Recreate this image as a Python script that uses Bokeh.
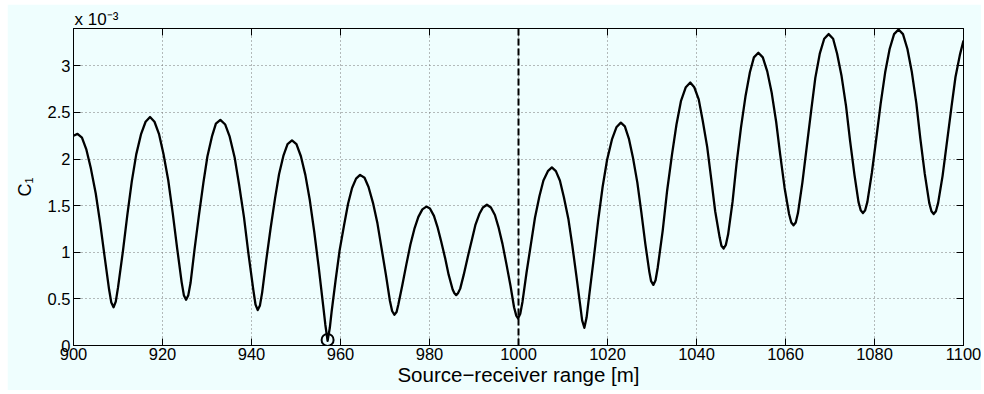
from bokeh.plotting import figure
from bokeh.models import FixedTicker, LinearAxis, Span, Range1d, Title
from bokeh.embed import file_html
from bokeh.resources import INLINE

# ---- data (C1 in units of 1e-3) ----
range_m = [
    900.0, 900.9,
    901.9, 902.9, 903.9, 905.0, 906.0, 907.0, 908.0, 908.5, 909.0,
    909.5, 910.0, 911.1, 912.1, 913.1, 914.1, 915.2, 916.2, 917.2,
    918.2, 919.2, 920.2, 921.3, 922.3, 923.3, 924.3, 924.8, 925.3,
    925.8, 926.3, 927.2, 928.2, 929.2, 930.1, 931.1, 932.0, 933.0,
    934.1, 935.1, 936.2, 937.2, 938.3, 939.3, 940.4, 940.9, 941.4,
    941.9, 942.4, 943.3, 944.3, 945.3, 946.2, 947.2, 948.1, 949.1,
    950.1, 951.1, 952.1, 953.1, 954.1, 955.1, 956.1, 956.6, 957.1,
    957.6, 958.0, 958.9, 959.8, 960.8, 961.7, 962.6, 963.5, 964.4,
    965.4, 966.3, 967.3, 968.3, 969.2, 970.2, 971.1, 971.6, 972.1,
    972.6, 973.0, 973.9, 974.8, 975.7, 976.6, 977.5, 978.4, 979.3,
    980.1, 981.0, 981.8, 982.6, 983.5, 984.3, 985.2, 985.6, 986.0,
    986.4, 986.9, 987.7, 988.6, 989.5, 990.3, 991.2, 992.0, 992.9,
    993.8, 994.7, 995.5, 996.4, 997.3, 998.2, 999.0, 999.5, 999.9,
    1000.4, 1000.9, 1001.8, 1002.8, 1003.7, 1004.7, 1005.6, 1006.6, 1007.5,
    1008.4, 1009.3, 1010.2, 1011.2, 1012.1, 1013.0, 1013.9, 1014.3, 1014.8,
    1015.3, 1015.8, 1016.9, 1017.9, 1018.9, 1019.9, 1021.0, 1022.0, 1023.0,
    1023.9, 1024.8, 1025.7, 1026.7, 1027.6, 1028.5, 1029.4, 1029.8, 1030.3,
    1030.8, 1031.3, 1032.4, 1033.4, 1034.5, 1035.5, 1036.5, 1037.6, 1038.6,
    1039.5, 1040.5, 1041.4, 1042.4, 1043.3, 1044.2, 1045.2, 1045.6, 1046.1,
    1046.6, 1047.1, 1048.1, 1049.0, 1050.0, 1051.0, 1052.0, 1052.9, 1053.9,
    1054.9, 1055.9, 1056.9, 1057.9, 1058.8, 1059.8, 1060.8, 1061.3, 1061.8,
    1062.3, 1062.8, 1063.8, 1064.8, 1065.8, 1066.7, 1067.7, 1068.7, 1069.7,
    1070.7, 1071.6, 1072.6, 1073.6, 1074.5, 1075.5, 1076.4, 1076.9, 1077.4,
    1077.9, 1078.4, 1079.4, 1080.4, 1081.4, 1082.4, 1083.4, 1084.4, 1085.4,
    1086.4, 1087.4, 1088.4, 1089.4, 1090.3, 1091.3, 1092.3, 1092.8, 1093.3,
    1093.8, 1094.3, 1095.3, 1096.3, 1097.3, 1098.2, 1099.2, 1100.0,
]
c1_milli = [
    2.25, 2.27,
    2.23, 2.10, 1.90, 1.63, 1.31, 0.95, 0.60, 0.46, 0.41,
    0.47, 0.62, 1.01, 1.40, 1.76, 2.05, 2.27, 2.40, 2.45,
    2.40, 2.27, 2.06, 1.77, 1.42, 1.04, 0.68, 0.54, 0.49,
    0.54, 0.67, 1.03, 1.40, 1.75, 2.03, 2.24, 2.38, 2.42,
    2.37, 2.24, 2.02, 1.73, 1.38, 0.99, 0.60, 0.44, 0.38,
    0.43, 0.57, 0.91, 1.26, 1.58, 1.84, 2.04, 2.16, 2.20,
    2.16, 2.03, 1.83, 1.56, 1.22, 0.84, 0.43, 0.22, 0.05,
    0.19, 0.36, 0.70, 1.02, 1.29, 1.52, 1.69, 1.79, 1.83,
    1.80, 1.70, 1.53, 1.31, 1.05, 0.76, 0.48, 0.37, 0.33,
    0.36, 0.44, 0.65, 0.87, 1.08, 1.25, 1.38, 1.46, 1.49,
    1.47, 1.39, 1.27, 1.12, 0.94, 0.76, 0.60, 0.56, 0.54,
    0.56, 0.61, 0.76, 0.95, 1.13, 1.29, 1.41, 1.48, 1.51,
    1.48, 1.40, 1.27, 1.09, 0.87, 0.64, 0.41, 0.32, 0.29,
    0.34, 0.47, 0.78, 1.09, 1.37, 1.60, 1.77, 1.87, 1.91,
    1.87, 1.77, 1.59, 1.36, 1.07, 0.75, 0.42, 0.27, 0.19,
    0.30, 0.50, 0.93, 1.34, 1.70, 1.99, 2.21, 2.34, 2.39,
    2.35, 2.22, 2.02, 1.75, 1.43, 1.09, 0.79, 0.69, 0.65,
    0.70, 0.84, 1.23, 1.66, 2.05, 2.37, 2.62, 2.77, 2.82,
    2.77, 2.64, 2.41, 2.13, 1.79, 1.44, 1.16, 1.07, 1.04,
    1.08, 1.19, 1.54, 1.95, 2.34, 2.67, 2.93, 3.09, 3.14,
    3.09, 2.94, 2.71, 2.40, 2.05, 1.69, 1.41, 1.32, 1.29,
    1.32, 1.42, 1.75, 2.14, 2.53, 2.87, 3.13, 3.29, 3.34,
    3.29, 3.13, 2.89, 2.57, 2.20, 1.83, 1.54, 1.45, 1.42,
    1.45, 1.54, 1.85, 2.22, 2.60, 2.93, 3.18, 3.34, 3.39,
    3.34, 3.18, 2.93, 2.60, 2.22, 1.84, 1.53, 1.44, 1.41,
    1.44, 1.53, 1.82, 2.19, 2.56, 2.88, 3.12, 3.27,
]
marker_range = [957.1]
marker_c1 = [0.06]
reference_range = 1000

x_ticks = [900, 920, 940, 960, 980, 1000, 1020, 1040, 1060, 1080, 1100]
y_ticks = [0, 0.5, 1, 1.5, 2, 2.5, 3]
y_tick_labels = ["0", "0.5", "1", "1.5", "2", "2.5", "3"]
x_title = "Source\u2212receiver range [m]"
y_title = "C\u2081"
scale_text = "x 10\u207b\u00b3"

BG = "#effefe"
FONT = "Liberation Sans"

p = figure(width=974, height=386,
           x_range=Range1d(900, 1100), y_range=Range1d(0, 3.4),
           output_backend="svg", toolbar_location=None,
           background_fill_color=BG, border_fill_color=BG,
           min_border_left=66, min_border_right=18,
           min_border_top=24, min_border_bottom=45)
p.margin = (4, 3, 4, 7)
p.outline_line_color = "black"
p.outline_line_width = 1

# bottom axis
xa = p.xaxis[0]
xa.ticker = FixedTicker(ticks=x_ticks)
xa.major_tick_in = 7
xa.major_tick_out = 0
xa.minor_tick_in = 0
xa.minor_tick_out = 0
xa.axis_line_color = "black"
xa.major_tick_line_color = "black"
xa.major_label_text_font = FONT
xa.major_label_text_font_size = "16.5px"
xa.major_label_text_color = "black"
xa.major_label_standoff = 2
xa.axis_label = x_title
xa.axis_label_text_font = FONT
xa.axis_label_text_font_style = "normal"
xa.axis_label_text_font_size = "20.5px"
xa.axis_label_text_color = "black"
xa.axis_label_standoff = 0

# left axis
ya = p.yaxis[0]
ya.ticker = FixedTicker(ticks=y_ticks)
ya.major_label_overrides = {t: s for t, s in zip(y_ticks, y_tick_labels)}
ya.major_tick_in = 7
ya.major_tick_out = 0
ya.minor_tick_in = 0
ya.minor_tick_out = 0
ya.axis_line_color = "black"
ya.major_tick_line_color = "black"
ya.major_label_text_font = FONT
ya.major_label_text_font_size = "16.5px"
ya.major_label_text_color = "black"
ya.major_label_standoff = 3
ya.axis_label = y_title
ya.axis_label_text_font = FONT
ya.axis_label_text_font_style = "normal"
ya.axis_label_text_font_size = "18px"
ya.axis_label_text_color = "black"
ya.axis_label_standoff = 10

# mirror axes (ticks only)
top = LinearAxis(ticker=FixedTicker(ticks=x_ticks),
                 major_label_overrides={t: "" for t in x_ticks})
right = LinearAxis(ticker=FixedTicker(ticks=y_ticks),
                   major_label_overrides={t: "" for t in y_ticks})
for ax in (top, right):
    ax.major_tick_in = 7
    ax.major_tick_out = 0
    ax.minor_tick_in = 0
    ax.minor_tick_out = 0
    ax.axis_line_color = "black"
    ax.major_tick_line_color = "black"
    ax.major_label_standoff = 0
    ax.major_label_text_font_size = "1px"
p.add_layout(top, "above")
p.add_layout(right, "right")

# x 10^-3 multiplier above the y axis
p.add_layout(Title(text=scale_text, align="left", offset=1, standoff=0,
                   text_font=FONT, text_font_size="17px",
                   text_font_style="normal", text_color="black",
                   vertical_align="bottom"), "above")

# grids
p.xgrid.ticker = FixedTicker(ticks=x_ticks)
p.ygrid.ticker = FixedTicker(ticks=y_ticks)
for g in (p.xgrid[0], p.ygrid[0]):
    g.grid_line_color = "#777777"
    g.grid_line_dash = "1 3"
    g.grid_line_width = 1

# curve, marker, reference line
p.line(range_m, c1_milli, line_color="black", line_width=2.3, line_join="round")
p.scatter(marker_range, marker_c1, marker="circle", size=12,
          fill_color=None, line_color="black", line_width=2)
p.add_layout(Span(location=reference_range, dimension="height",
                  line_color="black", line_width=2, line_dash="7 3"))

open("out.html", "w").write(file_html(p, INLINE))
